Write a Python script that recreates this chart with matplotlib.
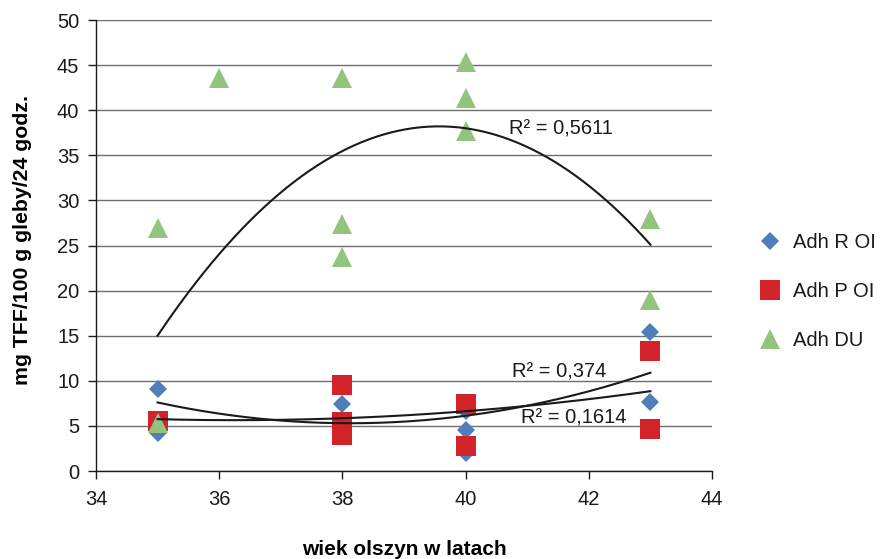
import numpy as np
import matplotlib
matplotlib.use("Agg")
import matplotlib.pyplot as plt

plt.rcParams['font.family'] = ['Liberation Sans', 'DejaVu Sans']

# Adh R OI (diamonds)
r_x = [35, 35, 38, 40, 40, 40, 43, 43]
r_y = [9.1, 4.2, 7.4, 6.6, 4.5, 2.0, 15.4, 7.6]
# Adh P OI (squares)
p_x = [35, 38, 38, 38, 40, 40, 43, 43]
p_y = [5.5, 9.5, 5.4, 4.0, 7.4, 2.8, 13.3, 4.7]
# Adh DU (triangles)
du_x = [35, 35, 36, 38, 38, 38, 40, 40, 40, 43, 43]
du_y = [26.9, 5.3, 43.6, 43.6, 27.4, 23.7, 45.3, 41.4, 37.7, 27.9, 19.0]

# second-order trend lines, given by their values at three ages
trend_du_x = [35, 39, 43]
trend_du_y = [15.0, 37.85, 25.1]
trend_a_x = [35, 38, 43]
trend_a_y = [7.6, 5.3, 10.9]
trend_b_x = [35, 38, 43]
trend_b_y = [5.75, 5.85, 8.85]

r2_labels = ["R² = 0,5611", "R² = 0,374", "R² = 0,1614"]
r2_x = [40.71, 40.75, 40.90]
r2_y = [37.33, 10.39, 5.29]

x_ticks = [34, 36, 38, 40, 42, 44]
y_ticks = [0, 5, 10, 15, 20, 25, 30, 35, 40, 45, 50]

fig = plt.figure(figsize=(8.82, 5.59), dpi=100)
ax = fig.add_axes([0.1088, 0.1574, 0.6985, 0.8068])

h_r, = ax.plot(r_x, r_y, linestyle='none', marker='D', ms=9.5, mew=0,
               color='#4F7EBB', label='Adh R OI', zorder=3)
h_p, = ax.plot(p_x, p_y, linestyle='none', marker='s', ms=14, mew=0,
               color='#D2232A', label='Adh P OI', zorder=4)
h_du, = ax.plot(du_x, du_y, linestyle='none', marker='^', ms=15, mew=0,
                color='#93C47D', label='Adh DU', zorder=5)

xs = np.linspace(35, 43, 200)
for tx, ty in ((trend_du_x, trend_du_y), (trend_a_x, trend_a_y), (trend_b_x, trend_b_y)):
    c = np.polyfit(tx, ty, 2)
    ax.plot(xs, np.polyval(c, xs), color='#1a1a1a', lw=1.5, zorder=6)

for lab, lx, ly in zip(r2_labels, r2_x, r2_y):
    ax.text(lx, ly, lab, fontsize=14.5, ha='left', va='baseline',
            color='#1a1a1a', zorder=7)

ax.set_xlim(34, 44)
ax.set_ylim(0, 50)
ax.set_xticks(x_ticks)
ax.set_yticks(y_ticks)
ax.yaxis.grid(True, color='#6e6e6e', lw=1)
ax.set_axisbelow(True)
for s in ('top', 'right'):
    ax.spines[s].set_visible(False)
for s in ('left', 'bottom'):
    ax.spines[s].set_color('#1a1a1a')
    ax.spines[s].set_linewidth(1)
ax.tick_params(axis='both', direction='out', length=6, width=1, color='#1a1a1a',
               labelsize=14.5, labelcolor='#1a1a1a')
ax.tick_params(axis='y', pad=6)
ax.tick_params(axis='x', pad=8)

ax.set_xlabel('wiek olszyn w latach', fontsize=15, fontweight='bold', labelpad=22)
ax.set_ylabel('mg TFF/100 g gleby/24 godz.', fontsize=15.3, fontweight='bold')
ax.yaxis.set_label_coords(-0.104, 0.513)

fig.legend(handles=[h_r, h_p, h_du], loc='center left',
           bbox_to_anchor=(0.8617, 0.4785), frameon=False, fontsize=14.5,
           labelspacing=1.5, handlelength=1.0, handletextpad=0.65,
           borderpad=0, borderaxespad=0, numpoints=1, labelcolor='#1a1a1a')

fig.savefig('out.png', dpi=100)
